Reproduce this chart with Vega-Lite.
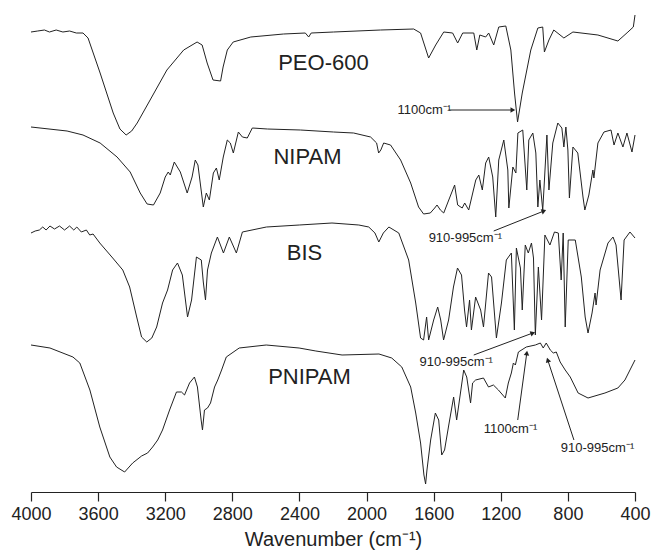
{
  "$schema": "https://vega.github.io/schema/vega-lite/v6.json",
  "width": 604,
  "height": 492,
  "autosize": {"type": "none"},
  "padding": {"left": 31, "right": 18, "top": 0, "bottom": 68},
  "config": {"view": {"stroke": null}, "font": "Liberation Sans"},
  "datasets": {
    "spectra": [
      {"s":"PEO-600","w":4000,"t":460},{"s":"PEO-600","w":3960,"t":461},{"s":"PEO-600","w":3920,"t":462},{"s":"PEO-600","w":3890,"t":460},{"s":"PEO-600","w":3850,"t":462},{"s":"PEO-600","w":3810,"t":460},{"s":"PEO-600","w":3770,"t":461},{"s":"PEO-600","w":3730,"t":459},{"s":"PEO-600","w":3690,"t":459},{"s":"PEO-600","w":3660,"t":454},{"s":"PEO-600","w":3588,"t":419},{"s":"PEO-600","w":3510,"t":379},{"s":"PEO-600","w":3470,"t":363},{"s":"PEO-600","w":3433,"t":357},{"s":"PEO-600","w":3400,"t":361},{"s":"PEO-600","w":3367,"t":369},{"s":"PEO-600","w":3290,"t":392},{"s":"PEO-600","w":3190,"t":422},{"s":"PEO-600","w":3090,"t":442},{"s":"PEO-600","w":3010,"t":450},{"s":"PEO-600","w":2980,"t":447},{"s":"PEO-600","w":2950,"t":429},{"s":"PEO-600","w":2915,"t":412},{"s":"PEO-600","w":2870,"t":411},{"s":"PEO-600","w":2855,"t":425},{"s":"PEO-600","w":2830,"t":442},{"s":"PEO-600","w":2795,"t":450},{"s":"PEO-600","w":2690,"t":455},{"s":"PEO-600","w":2495,"t":458},{"s":"PEO-600","w":2365,"t":459},{"s":"PEO-600","w":2345,"t":455},{"s":"PEO-600","w":2330,"t":459},{"s":"PEO-600","w":2197,"t":460},{"s":"PEO-600","w":1917,"t":462},{"s":"PEO-600","w":1719,"t":463},{"s":"PEO-600","w":1678,"t":459},{"s":"PEO-600","w":1630,"t":434},{"s":"PEO-600","w":1588,"t":447},{"s":"PEO-600","w":1540,"t":460},{"s":"PEO-600","w":1487,"t":459},{"s":"PEO-600","w":1457,"t":449},{"s":"PEO-600","w":1427,"t":459},{"s":"PEO-600","w":1361,"t":459},{"s":"PEO-600","w":1343,"t":442},{"s":"PEO-600","w":1325,"t":457},{"s":"PEO-600","w":1290,"t":455},{"s":"PEO-600","w":1272,"t":459},{"s":"PEO-600","w":1242,"t":447},{"s":"PEO-600","w":1212,"t":465},{"s":"PEO-600","w":1170,"t":466},{"s":"PEO-600","w":1140,"t":442},{"s":"PEO-600","w":1118,"t":399},{"s":"PEO-600","w":1100,"t":370},{"s":"PEO-600","w":1072,"t":399},{"s":"PEO-600","w":1021,"t":442},{"s":"PEO-600","w":979,"t":464},{"s":"PEO-600","w":950,"t":465},{"s":"PEO-600","w":940,"t":440},{"s":"PEO-600","w":913,"t":452},{"s":"PEO-600","w":884,"t":462},{"s":"PEO-600","w":824,"t":454},{"s":"PEO-600","w":770,"t":460},{"s":"PEO-600","w":621,"t":457},{"s":"PEO-600","w":502,"t":451},{"s":"PEO-600","w":442,"t":460},{"s":"PEO-600","w":410,"t":465},{"s":"PEO-600","w":400,"t":477},
      {"s":"NIPAM","w":4000,"t":365},{"s":"NIPAM","w":3785,"t":361},{"s":"NIPAM","w":3690,"t":357},{"s":"NIPAM","w":3588,"t":349},{"s":"NIPAM","w":3487,"t":335},{"s":"NIPAM","w":3409,"t":320},{"s":"NIPAM","w":3349,"t":299},{"s":"NIPAM","w":3308,"t":288},{"s":"NIPAM","w":3270,"t":287},{"s":"NIPAM","w":3230,"t":299},{"s":"NIPAM","w":3200,"t":315},{"s":"NIPAM","w":3182,"t":320},{"s":"NIPAM","w":3170,"t":317},{"s":"NIPAM","w":3146,"t":330},{"s":"NIPAM","w":3110,"t":320},{"s":"NIPAM","w":3069,"t":299},{"s":"NIPAM","w":3040,"t":315},{"s":"NIPAM","w":3021,"t":332},{"s":"NIPAM","w":3005,"t":327},{"s":"NIPAM","w":2973,"t":285},{"s":"NIPAM","w":2955,"t":299},{"s":"NIPAM","w":2937,"t":292},{"s":"NIPAM","w":2913,"t":319},{"s":"NIPAM","w":2895,"t":324},{"s":"NIPAM","w":2878,"t":312},{"s":"NIPAM","w":2854,"t":335},{"s":"NIPAM","w":2830,"t":352},{"s":"NIPAM","w":2812,"t":349},{"s":"NIPAM","w":2794,"t":339},{"s":"NIPAM","w":2764,"t":360},{"s":"NIPAM","w":2740,"t":355},{"s":"NIPAM","w":2711,"t":354},{"s":"NIPAM","w":2681,"t":364},{"s":"NIPAM","w":2591,"t":363},{"s":"NIPAM","w":2394,"t":362},{"s":"NIPAM","w":2197,"t":360},{"s":"NIPAM","w":2077,"t":359},{"s":"NIPAM","w":1976,"t":355},{"s":"NIPAM","w":1940,"t":349},{"s":"NIPAM","w":1928,"t":339},{"s":"NIPAM","w":1915,"t":342},{"s":"NIPAM","w":1898,"t":349},{"s":"NIPAM","w":1857,"t":347},{"s":"NIPAM","w":1797,"t":332},{"s":"NIPAM","w":1737,"t":309},{"s":"NIPAM","w":1690,"t":285},{"s":"NIPAM","w":1660,"t":278},{"s":"NIPAM","w":1620,"t":279},{"s":"NIPAM","w":1594,"t":284},{"s":"NIPAM","w":1580,"t":287},{"s":"NIPAM","w":1560,"t":282},{"s":"NIPAM","w":1540,"t":279},{"s":"NIPAM","w":1510,"t":292},{"s":"NIPAM","w":1475,"t":307},{"s":"NIPAM","w":1457,"t":287},{"s":"NIPAM","w":1430,"t":284},{"s":"NIPAM","w":1415,"t":289},{"s":"NIPAM","w":1391,"t":282},{"s":"NIPAM","w":1349,"t":312},{"s":"NIPAM","w":1331,"t":317},{"s":"NIPAM","w":1310,"t":302},{"s":"NIPAM","w":1290,"t":329},{"s":"NIPAM","w":1272,"t":335},{"s":"NIPAM","w":1248,"t":315},{"s":"NIPAM","w":1230,"t":275},{"s":"NIPAM","w":1212,"t":332},{"s":"NIPAM","w":1182,"t":352},{"s":"NIPAM","w":1158,"t":322},{"s":"NIPAM","w":1152,"t":284},{"s":"NIPAM","w":1128,"t":325},{"s":"NIPAM","w":1110,"t":319},{"s":"NIPAM","w":1098,"t":359},{"s":"NIPAM","w":1069,"t":362},{"s":"NIPAM","w":1057,"t":332},{"s":"NIPAM","w":1045,"t":302},{"s":"NIPAM","w":1033,"t":352},{"s":"NIPAM","w":1009,"t":359},{"s":"NIPAM","w":991,"t":339},{"s":"NIPAM","w":979,"t":285},{"s":"NIPAM","w":967,"t":312},{"s":"NIPAM","w":950,"t":282},{"s":"NIPAM","w":943,"t":302},{"s":"NIPAM","w":925,"t":357},{"s":"NIPAM","w":913,"t":302},{"s":"NIPAM","w":890,"t":349},{"s":"NIPAM","w":860,"t":369},{"s":"NIPAM","w":836,"t":364},{"s":"NIPAM","w":824,"t":345},{"s":"NIPAM","w":812,"t":365},{"s":"NIPAM","w":800,"t":342},{"s":"NIPAM","w":791,"t":294},{"s":"NIPAM","w":770,"t":345},{"s":"NIPAM","w":741,"t":339},{"s":"NIPAM","w":710,"t":295},{"s":"NIPAM","w":699,"t":282},{"s":"NIPAM","w":675,"t":297},{"s":"NIPAM","w":651,"t":322},{"s":"NIPAM","w":645,"t":314},{"s":"NIPAM","w":621,"t":349},{"s":"NIPAM","w":585,"t":360},{"s":"NIPAM","w":543,"t":362},{"s":"NIPAM","w":525,"t":347},{"s":"NIPAM","w":502,"t":359},{"s":"NIPAM","w":472,"t":345},{"s":"NIPAM","w":448,"t":359},{"s":"NIPAM","w":418,"t":340},{"s":"NIPAM","w":400,"t":357},
      {"s":"BIS","w":4000,"t":259},{"s":"BIS","w":3975,"t":261},{"s":"BIS","w":3950,"t":262},{"s":"BIS","w":3930,"t":265},{"s":"BIS","w":3910,"t":262},{"s":"BIS","w":3887,"t":266},{"s":"BIS","w":3860,"t":263},{"s":"BIS","w":3830,"t":266},{"s":"BIS","w":3800,"t":262},{"s":"BIS","w":3770,"t":266},{"s":"BIS","w":3745,"t":262},{"s":"BIS","w":3727,"t":265},{"s":"BIS","w":3700,"t":260},{"s":"BIS","w":3670,"t":262},{"s":"BIS","w":3650,"t":257},{"s":"BIS","w":3630,"t":258},{"s":"BIS","w":3590,"t":249},{"s":"BIS","w":3513,"t":234},{"s":"BIS","w":3453,"t":222},{"s":"BIS","w":3412,"t":205},{"s":"BIS","w":3370,"t":175},{"s":"BIS","w":3341,"t":155},{"s":"BIS","w":3310,"t":150},{"s":"BIS","w":3280,"t":154},{"s":"BIS","w":3251,"t":165},{"s":"BIS","w":3216,"t":189},{"s":"BIS","w":3186,"t":202},{"s":"BIS","w":3156,"t":222},{"s":"BIS","w":3127,"t":229},{"s":"BIS","w":3098,"t":217},{"s":"BIS","w":3067,"t":175},{"s":"BIS","w":3043,"t":192},{"s":"BIS","w":3014,"t":235},{"s":"BIS","w":2985,"t":232},{"s":"BIS","w":2973,"t":210},{"s":"BIS","w":2960,"t":192},{"s":"BIS","w":2948,"t":222},{"s":"BIS","w":2925,"t":239},{"s":"BIS","w":2889,"t":255},{"s":"BIS","w":2853,"t":239},{"s":"BIS","w":2818,"t":255},{"s":"BIS","w":2776,"t":239},{"s":"BIS","w":2740,"t":260},{"s":"BIS","w":2597,"t":265},{"s":"BIS","w":2401,"t":267},{"s":"BIS","w":2206,"t":269},{"s":"BIS","w":2046,"t":267},{"s":"BIS","w":1987,"t":265},{"s":"BIS","w":1950,"t":259},{"s":"BIS","w":1927,"t":250},{"s":"BIS","w":1900,"t":259},{"s":"BIS","w":1867,"t":265},{"s":"BIS","w":1808,"t":259},{"s":"BIS","w":1749,"t":232},{"s":"BIS","w":1707,"t":189},{"s":"BIS","w":1678,"t":154},{"s":"BIS","w":1660,"t":152},{"s":"BIS","w":1642,"t":175},{"s":"BIS","w":1630,"t":152},{"s":"BIS","w":1600,"t":172},{"s":"BIS","w":1576,"t":185},{"s":"BIS","w":1558,"t":172},{"s":"BIS","w":1541,"t":152},{"s":"BIS","w":1511,"t":172},{"s":"BIS","w":1482,"t":205},{"s":"BIS","w":1458,"t":224},{"s":"BIS","w":1434,"t":217},{"s":"BIS","w":1416,"t":182},{"s":"BIS","w":1404,"t":165},{"s":"BIS","w":1386,"t":192},{"s":"BIS","w":1375,"t":162},{"s":"BIS","w":1350,"t":195},{"s":"BIS","w":1320,"t":182},{"s":"BIS","w":1303,"t":165},{"s":"BIS","w":1273,"t":219},{"s":"BIS","w":1255,"t":215},{"s":"BIS","w":1226,"t":154},{"s":"BIS","w":1196,"t":189},{"s":"BIS","w":1167,"t":232},{"s":"BIS","w":1137,"t":239},{"s":"BIS","w":1119,"t":162},{"s":"BIS","w":1107,"t":244},{"s":"BIS","w":1083,"t":224},{"s":"BIS","w":1072,"t":182},{"s":"BIS","w":1054,"t":247},{"s":"BIS","w":1036,"t":239},{"s":"BIS","w":1017,"t":249},{"s":"BIS","w":1005,"t":234},{"s":"BIS","w":994,"t":157},{"s":"BIS","w":976,"t":225},{"s":"BIS","w":957,"t":172},{"s":"BIS","w":937,"t":257},{"s":"BIS","w":907,"t":247},{"s":"BIS","w":880,"t":260},{"s":"BIS","w":857,"t":259},{"s":"BIS","w":840,"t":212},{"s":"BIS","w":828,"t":259},{"s":"BIS","w":816,"t":165},{"s":"BIS","w":798,"t":252},{"s":"BIS","w":756,"t":252},{"s":"BIS","w":720,"t":215},{"s":"BIS","w":697,"t":175},{"s":"BIS","w":680,"t":159},{"s":"BIS","w":656,"t":179},{"s":"BIS","w":638,"t":199},{"s":"BIS","w":632,"t":187},{"s":"BIS","w":608,"t":222},{"s":"BIS","w":561,"t":249},{"s":"BIS","w":531,"t":255},{"s":"BIS","w":513,"t":247},{"s":"BIS","w":483,"t":192},{"s":"BIS","w":465,"t":252},{"s":"BIS","w":430,"t":260},{"s":"BIS","w":400,"t":254},
      {"s":"PNIPAM","w":4000,"t":147},{"s":"PNIPAM","w":3887,"t":144},{"s":"PNIPAM","w":3750,"t":135},{"s":"PNIPAM","w":3709,"t":129},{"s":"PNIPAM","w":3649,"t":102},{"s":"PNIPAM","w":3590,"t":65},{"s":"PNIPAM","w":3530,"t":35},{"s":"PNIPAM","w":3490,"t":25},{"s":"PNIPAM","w":3442,"t":20},{"s":"PNIPAM","w":3394,"t":29},{"s":"PNIPAM","w":3341,"t":36},{"s":"PNIPAM","w":3305,"t":39},{"s":"PNIPAM","w":3275,"t":45},{"s":"PNIPAM","w":3245,"t":52},{"s":"PNIPAM","w":3216,"t":62},{"s":"PNIPAM","w":3174,"t":82},{"s":"PNIPAM","w":3133,"t":100},{"s":"PNIPAM","w":3103,"t":100},{"s":"PNIPAM","w":3085,"t":97},{"s":"PNIPAM","w":3055,"t":109},{"s":"PNIPAM","w":3026,"t":115},{"s":"PNIPAM","w":3008,"t":105},{"s":"PNIPAM","w":2986,"t":72},{"s":"PNIPAM","w":2978,"t":62},{"s":"PNIPAM","w":2966,"t":82},{"s":"PNIPAM","w":2948,"t":84},{"s":"PNIPAM","w":2930,"t":89},{"s":"PNIPAM","w":2906,"t":105},{"s":"PNIPAM","w":2887,"t":112},{"s":"PNIPAM","w":2864,"t":122},{"s":"PNIPAM","w":2836,"t":135},{"s":"PNIPAM","w":2759,"t":144},{"s":"PNIPAM","w":2598,"t":147},{"s":"PNIPAM","w":2402,"t":144},{"s":"PNIPAM","w":2302,"t":141},{"s":"PNIPAM","w":2146,"t":137},{"s":"PNIPAM","w":1926,"t":138},{"s":"PNIPAM","w":1850,"t":134},{"s":"PNIPAM","w":1790,"t":125},{"s":"PNIPAM","w":1737,"t":105},{"s":"PNIPAM","w":1707,"t":79},{"s":"PNIPAM","w":1678,"t":49},{"s":"PNIPAM","w":1658,"t":17},{"s":"PNIPAM","w":1648,"t":8},{"s":"PNIPAM","w":1640,"t":22},{"s":"PNIPAM","w":1618,"t":52},{"s":"PNIPAM","w":1590,"t":79},{"s":"PNIPAM","w":1570,"t":72},{"s":"PNIPAM","w":1552,"t":37},{"s":"PNIPAM","w":1535,"t":42},{"s":"PNIPAM","w":1510,"t":67},{"s":"PNIPAM","w":1481,"t":95},{"s":"PNIPAM","w":1463,"t":72},{"s":"PNIPAM","w":1421,"t":122},{"s":"PNIPAM","w":1403,"t":115},{"s":"PNIPAM","w":1380,"t":89},{"s":"PNIPAM","w":1368,"t":109},{"s":"PNIPAM","w":1350,"t":112},{"s":"PNIPAM","w":1303,"t":114},{"s":"PNIPAM","w":1273,"t":105},{"s":"PNIPAM","w":1244,"t":107},{"s":"PNIPAM","w":1214,"t":102},{"s":"PNIPAM","w":1173,"t":94},{"s":"PNIPAM","w":1155,"t":109},{"s":"PNIPAM","w":1137,"t":119},{"s":"PNIPAM","w":1125,"t":129},{"s":"PNIPAM","w":1113,"t":127},{"s":"PNIPAM","w":1095,"t":140},{"s":"PNIPAM","w":1048,"t":145},{"s":"PNIPAM","w":994,"t":147},{"s":"PNIPAM","w":964,"t":149},{"s":"PNIPAM","w":947,"t":144},{"s":"PNIPAM","w":929,"t":149},{"s":"PNIPAM","w":905,"t":142},{"s":"PNIPAM","w":887,"t":139},{"s":"PNIPAM","w":869,"t":140},{"s":"PNIPAM","w":846,"t":130},{"s":"PNIPAM","w":816,"t":122},{"s":"PNIPAM","w":786,"t":115},{"s":"PNIPAM","w":739,"t":99},{"s":"PNIPAM","w":680,"t":94},{"s":"PNIPAM","w":579,"t":99},{"s":"PNIPAM","w":502,"t":104},{"s":"PNIPAM","w":460,"t":112},{"s":"PNIPAM","w":424,"t":124},{"s":"PNIPAM","w":400,"t":132}
    ],
    "labels": [
      {"label":"PEO-600","w":2257,"t":429},
      {"label":"NIPAM","w":2352,"t":335},
      {"label":"BIS","w":2370,"t":239},
      {"label":"PNIPAM","w":2340,"t":115}
    ],
    "notes": [
      {"txt":"1100cm⁻¹","w":1815,"t":382},
      {"txt":"910-995cm⁻¹","w":1630,"t":254},
      {"txt":"910-995cm⁻¹","w":1684,"t":130},
      {"txt":"1100cm⁻¹","w":1302,"t":63},
      {"txt":"910-995cm⁻¹","w":842,"t":44}
    ],
    "arrows": [
      {"w1":1511,"t1":382,"w2":1128,"t2":382,"ang":90},
      {"w1":1242,"t1":261,"w2":943,"t2":281,"ang":68},
      {"w1":1361,"t1":137,"w2":1009,"t2":159,"ang":70},
      {"w1":1099,"t1":72,"w2":1045,"t2":139,"ang":8},
      {"w1":764,"t1":52,"w2":920,"t2":132,"ang":-18}
    ]
  },
  "layer": [
    {
      "data": {"name": "spectra"},
      "mark": {"type": "line", "color": "#222222", "strokeWidth": 1},
      "encoding": {
        "x": {
          "field": "w", "type": "quantitative",
          "scale": {"domain": [400, 4000], "reverse": true, "nice": false, "zero": false},
          "axis": {
            "title": "Wavenumber (cm⁻¹)",
            "values": [4000,3800,3600,3400,3200,3000,2800,2600,2400,2200,2000,1800,1600,1400,1200,1000,800,600,400],
            "labelExpr": "datum.value % 400 === 0 ? datum.value : ''",
            "tickSize": {"condition": {"test": "datum.value % 400 === 0", "value": 9}, "value": 5},
            "grid": false,
            "labelFont": "Liberation Sans", "labelFontSize": 18, "labelColor": "#222222",
            "labelOverlap": false, "labelFlush": false, "labelPadding": 4,
            "titleFont": "Liberation Sans", "titleFontSize": 20, "titleFontWeight": "normal", "titleColor": "#222222", "titlePadding": 6,
            "domainColor": "#222222", "tickColor": "#222222", "domainWidth": 1.2, "tickWidth": 1.2
          }
        },
        "y": {"field": "t", "type": "quantitative", "scale": {"domain": [0, 492], "nice": false}, "axis": null},
        "detail": {"field": "s"}
      }
    },
    {
      "data": {"name": "labels"},
      "mark": {"type": "text", "fontSize": 22, "color": "#222222", "font": "Liberation Sans"},
      "encoding": {
        "x": {"field": "w", "type": "quantitative"},
        "y": {"field": "t", "type": "quantitative", "axis": null},
        "text": {"field": "label"}
      }
    },
    {
      "data": {"name": "notes"},
      "mark": {"type": "text", "fontSize": 13, "align": "left", "color": "#222222", "font": "Liberation Sans"},
      "encoding": {
        "x": {"field": "w", "type": "quantitative"},
        "y": {"field": "t", "type": "quantitative", "axis": null},
        "text": {"field": "txt"}
      }
    },
    {
      "data": {"name": "arrows"},
      "mark": {"type": "rule", "color": "#222222", "strokeWidth": 1},
      "encoding": {
        "x": {"field": "w1", "type": "quantitative"},
        "x2": {"field": "w2"},
        "y": {"field": "t1", "type": "quantitative", "axis": null},
        "y2": {"field": "t2"}
      }
    },
    {
      "data": {"name": "arrows"},
      "mark": {"type": "point", "shape": "triangle-up", "filled": true, "color": "#222222", "size": 30, "opacity": 1, "strokeWidth": 0},
      "encoding": {
        "x": {"field": "w2", "type": "quantitative"},
        "y": {"field": "t2", "type": "quantitative", "axis": null},
        "angle": {"field": "ang", "type": "quantitative", "scale": null}
      }
    }
  ]
}
